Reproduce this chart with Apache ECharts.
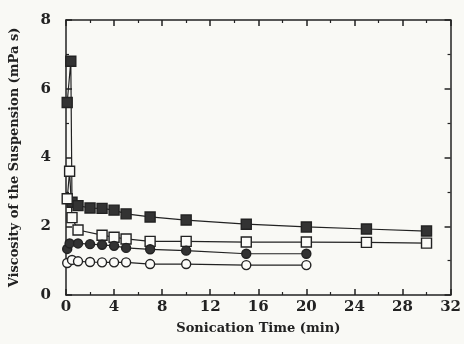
<!DOCTYPE html>
<html>
<head>
<meta charset="utf-8">
<script src="https://cdn.jsdelivr.net/npm/echarts@6/dist/echarts.min.js"></script>
<style>
  body { margin: 0; background: #f9f9f5; }
  #main { width: 464px; height: 344px; }
</style>
</head>
<body>
<div id="main"></div>
<script>
// sonication time (min) / viscosity (mPa s)
var filledSqX = [0.1, 0.4, 0.5, 1, 2, 3, 4, 5, 7, 10, 15, 20, 25, 30];
var filledSqY = [5.6, 6.8, 2.7, 2.6, 2.53, 2.52, 2.47, 2.36, 2.27, 2.18, 2.06, 1.98, 1.92, 1.86];
var openSqX = [0.1, 0.3, 0.5, 1, 3, 4, 5, 7, 10, 15, 20, 25, 30];
var openSqY = [2.8, 3.6, 2.25, 1.89, 1.74, 1.68, 1.63, 1.56, 1.56, 1.54, 1.54, 1.53, 1.51];
var filledCiX = [0.1, 0.3, 1, 2, 3, 4, 5, 7, 10, 15, 20];
var filledCiY = [1.34, 1.5, 1.5, 1.48, 1.46, 1.43, 1.37, 1.33, 1.29, 1.2, 1.2];
var openCiX = [0.1, 0.5, 1, 2, 3, 4, 5, 7, 10, 15, 20];
var openCiY = [0.93, 1.02, 0.98, 0.96, 0.95, 0.95, 0.95, 0.9, 0.9, 0.87, 0.87];

function pairs(xs, ys) {
  return xs.map(function (x, i) { return [x, ys[i]]; });
}

var font = 'DejaVu Serif';
var ink = '#222';

function mkSeries(xs, ys, symbol, size, filled) {
  return {
    type: 'line',
    data: pairs(xs, ys),
    symbol: symbol,
    symbolSize: size,
    showAllSymbol: true,
    lineStyle: { color: ink, width: 1.2 },
    itemStyle: { color: filled ? '#333' : '#fbfbf8', borderColor: ink, borderWidth: 1.4 },
    z: 3
  };
}

var myChart = echarts.init(document.getElementById('main'));
var tickStyle = { inside: true, length: 6, lineStyle: { color: ink, width: 1.5 } };
var minorStyle = { show: true, splitNumber: 2, length: 3, lineStyle: { color: ink, width: 1.2 } };
var frameLine = { show: true, onZero: false, lineStyle: { color: ink, width: 1.5 } };

var option = {
  animation: false,
  backgroundColor: '#f9f9f5',
  grid: { left: 65, right: 9, top: 20, bottom: 49 },
  xAxis: [{
    type: 'value', min: 0, max: 32, interval: 4,
    name: 'Sonication Time (min)', nameLocation: 'middle', nameGap: 27,
    nameTextStyle: { fontFamily: font, fontSize: 13, color: ink, fontWeight: 'bold' },
    axisLine: frameLine,
    axisTick: tickStyle, minorTick: minorStyle,
    axisLabel: { fontFamily: font, fontSize: 15, color: ink, margin: 5, fontWeight: 'bold' },
    splitLine: { show: false }
  }, {
    type: 'value', min: 0, max: 32, interval: 4, position: 'top',
    axisLine: frameLine,
    axisTick: tickStyle, minorTick: minorStyle,
    axisLabel: { show: false }, splitLine: { show: false }
  }],
  yAxis: [{
    type: 'value', min: 0, max: 8, interval: 2,
    name: 'Viscosity of the Suspension (mPa s)', nameLocation: 'middle', nameGap: 45,
    nameTextStyle: { fontFamily: font, fontSize: 13, color: ink, fontWeight: 'bold' },
    axisLine: frameLine,
    axisTick: tickStyle, minorTick: minorStyle,
    axisLabel: { fontFamily: font, fontSize: 15, color: ink, margin: 15, fontWeight: 'bold' },
    splitLine: { show: false }
  }, {
    type: 'value', min: 0, max: 8, interval: 2, position: 'right',
    axisLine: frameLine,
    axisTick: tickStyle, minorTick: minorStyle,
    axisLabel: { show: false }, splitLine: { show: false }
  }],
  series: [
    mkSeries(filledSqX, filledSqY, 'rect', 10, true),
    mkSeries(openSqX, openSqY, 'rect', 10, false),
    mkSeries(filledCiX, filledCiY, 'circle', 9, true),
    mkSeries(openCiX, openCiY, 'circle', 9, false)
  ]
};

myChart.setOption(option);
</script>
</body>
</html>
